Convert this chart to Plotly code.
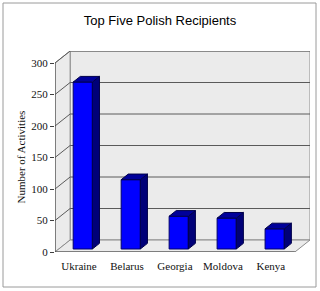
import plotly.graph_objects as go

categories = ["Ukraine", "Belarus", "Georgia", "Moldova", "Kenya"]
values = [265, 110, 52, 49, 32]
y_ticks = [0, 50, 100, 150, 200, 250, 300]

W, H = 320, 291
ML, MR, MT, MB = 55, 10, 51, 39
n = len(categories)
ymax = y_ticks[-1]
# depth offsets in data units
DX = 0.315
DY = 19.05
F = 0.25   # bar front depth fraction
D = 0.47   # bar depth fraction
BW = 0.4   # bar width

fig = go.Figure()

shapes = []
wall_fill = "#ebebeb"
edge = "#8c8c8c"
# back wall
shapes.append(dict(type="path", xref="x", yref="y", layer="below",
                   path=f"M {DX},{DY} L {n+DX},{DY} L {n+DX},{ymax+DY} L {DX},{ymax+DY} Z",
                   fillcolor=wall_fill, line=dict(color=edge, width=1)))
# left wall
shapes.append(dict(type="path", xref="x", yref="y", layer="below",
                   path=f"M 0,0 L {DX},{DY} L {DX},{ymax+DY} L 0,{ymax} Z",
                   fillcolor=wall_fill, line=dict(color=edge, width=1)))
# floor
shapes.append(dict(type="path", xref="x", yref="y", layer="below",
                   path=f"M 0,0 L {n},0 L {n+DX},{DY} L {DX},{DY} Z",
                   fillcolor=wall_fill, line=dict(color=edge, width=1)))
# gridlines
for v in y_ticks[1:]:
    shapes.append(dict(type="path", xref="x", yref="y", layer="below",
                       path=f"M 0,{v} L {DX},{v+DY} L {n+DX},{v+DY}",
                       line=dict(color="#5a5a5a", width=1)))
# front axes
shapes.append(dict(type="line", xref="x", yref="y", layer="below",
                   x0=0, y0=0, x1=0, y1=ymax, line=dict(color="#404040", width=1)))
shapes.append(dict(type="line", xref="x", yref="y", layer="below",
                   x0=0, y0=0, x1=n, y1=0, line=dict(color="#404040", width=1)))
# category boundary ticks
for i in range(n + 1):
    shapes.append(dict(type="line", xref="x", yref="y", layer="below",
                       x0=i, y0=0, x1=i, y1=-6, line=dict(color="#404040", width=1)))
# outer frame
shapes.append(dict(type="rect", xref="paper", yref="paper", layer="below",
                   x0=(3 - ML) / (W - ML - MR), x1=(316 - ML) / (W - ML - MR),
                   y0=(H - MB - 287) / (H - MT - MB), y1=(H - MB - 3) / (H - MT - MB),
                   line=dict(color="#9a9a9a", width=1)))

base = F * DY
xc = [i + 0.5 + F * DX for i in range(n)]
fig.add_trace(go.Bar(x=xc, y=values, base=[base] * n, width=BW,
                     marker=dict(color="#0000ff", line=dict(color="#00006a", width=1)),
                     hoverinfo="skip", showlegend=False))

for x, v in zip(xc, values):
    x0, x1 = x - BW / 2, x + BW / 2
    top = v + base
    # side face
    fig.add_trace(go.Scatter(
        x=[x1, x1 + D * DX, x1 + D * DX, x1, x1],
        y=[base, base + D * DY, top + D * DY, top, base],
        fill="toself", fillcolor="#000078", mode="lines",
        line=dict(color="#00004a", width=1), hoverinfo="skip", showlegend=False))
    # top face
    fig.add_trace(go.Scatter(
        x=[x0, x1, x1 + D * DX, x0 + D * DX, x0],
        y=[top, top, top + D * DY, top + D * DY, top],
        fill="toself", fillcolor="#00009a", mode="lines",
        line=dict(color="#00004a", width=1), hoverinfo="skip", showlegend=False))

# invisible trace for label axis
fig.add_trace(go.Scatter(x=[0.5], y=[0], xaxis="x2", mode="markers",
                         marker=dict(opacity=0), hoverinfo="skip", showlegend=False))

serif = "Liberation Serif"
fig.update_layout(
    width=W, height=H, margin=dict(l=ML, r=MR, t=MT, b=MB),
    paper_bgcolor="white", plot_bgcolor="white",
    title=dict(text="Top Five Polish Recipients", x=0.5, xref="container", xanchor="center",
               y=1 - 20 / H, yanchor="middle",
               font=dict(family="Liberation Sans", size=13, color="#000")),
    xaxis=dict(range=[0, n + DX], showgrid=False, zeroline=False, showline=False,
               showticklabels=False, ticks="", fixedrange=True),
    xaxis2=dict(range=[0, n + DX], overlaying="x", anchor="y", side="bottom",
                tickvals=[i + 0.5 for i in range(n)], ticktext=categories,
                showgrid=False, zeroline=False, showline=False, ticks="",
                ticklabelstandoff=6,
                tickfont=dict(family=serif, size=11, color="#111")),
    yaxis=dict(range=[0, ymax + DY], tickvals=y_ticks, showgrid=False, zeroline=False,
               showline=False, ticks="outside", ticklen=4, tickcolor="#404040",
               tickfont=dict(family=serif, size=11, color="#111")),
    shapes=shapes,
    annotations=[dict(text="Number of Activities", textangle=-90, xref="paper", x=0,
                      xshift=-35, xanchor="center", yref="y", y=ymax / 2, yanchor="middle",
                      showarrow=False, font=dict(family=serif, size=11, color="#111"))],
)

fig.write_html("out.html")
